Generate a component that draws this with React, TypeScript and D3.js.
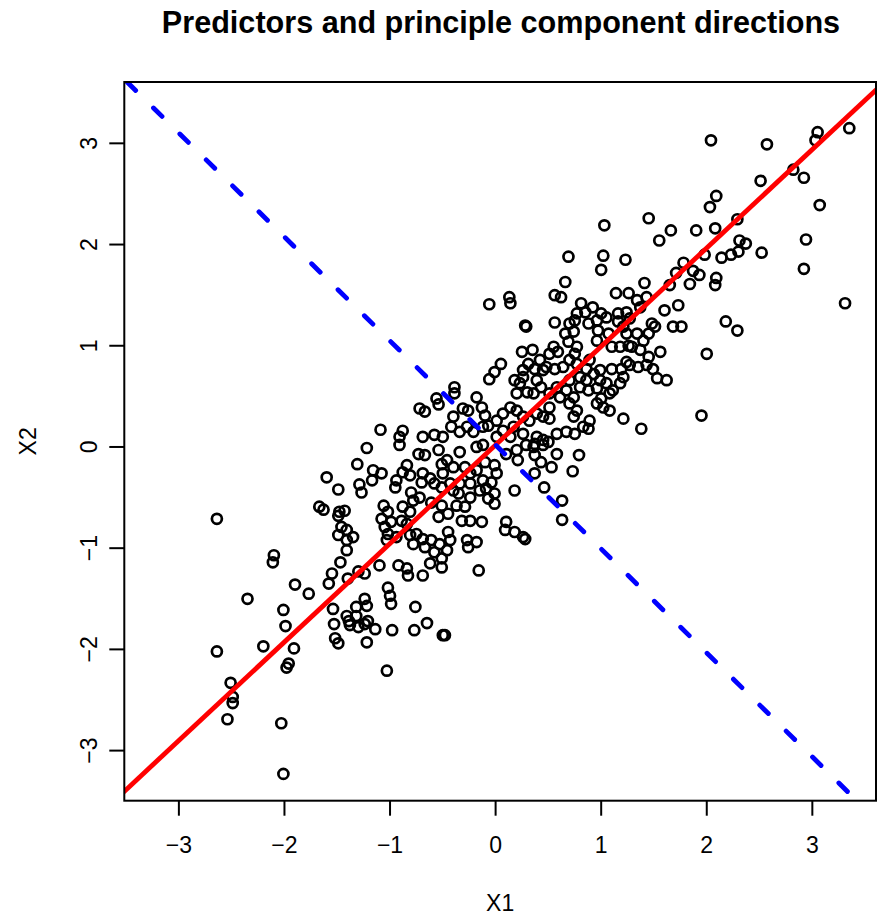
import React from "react";
import * as d3 from "d3";

const title = "Predictors and principle component directions";
const xLabel = "X1";
const yLabel = "X2";
const xTicks = [-3, -2, -1, 0, 1, 2, 3];
const yTicks = [-3, -2, -1, 0, 1, 2, 3];
const xDomain: [number, number] = [-3.517, 3.603];
const yDomain: [number, number] = [-3.495, 3.606];

// principal component directions (through the data centre)
const pcCenter: [number, number] = [0.0, 0.02];
const pc1Slope = 0.9733;
const pc2Slope = -1 / 0.9733;

// observations [X1, X2]
const observations: [number, number][] = [
  [1.03,2.19],[1.45,2.26],[1.66,2.14],[1.55,2.04],[1.90,2.14],[0.69,1.88],[1.02,1.89],[1.00,1.75],[1.23,1.85],[0.66,1.63],
  [1.41,1.62],[1.78,1.82],[1.71,1.72],[1.87,1.74],[1.93,1.70],[1.84,1.61],[1.65,1.60],
  [2.04,3.03],[2.57,2.99],[3.05,3.11],[3.03,3.03],[3.35,3.15],[2.51,2.63],[2.82,2.74],[2.92,2.66],[3.07,2.39],[2.09,2.48],
  [2.03,2.37],[2.29,2.25],[2.08,2.16],[2.31,2.04],[2.37,2.01],[2.30,1.93],[2.23,1.90],[2.14,1.87],[1.98,1.90],[2.52,1.92],
  [2.94,2.05],[2.92,1.76],[2.09,1.67],[2.08,1.60],
  [3.31,1.42],[2.18,1.24],[2.29,1.15],[2.00,0.92],[1.95,0.31],
  [-0.06,1.41],[0.13,1.48],[0.14,1.42],[0.28,1.20],[0.29,1.19],[0.25,0.94],[0.35,0.96],[0.05,0.82],[-0.01,0.74],[-0.06,0.67],
  [0.26,0.76],[0.18,0.66],[0.23,0.63],[0.26,0.69],[0.20,0.53],[0.30,0.54],[-0.39,0.59],[-0.39,0.53],[-0.18,0.49],[-0.56,0.48],
  [-0.54,0.42],[-0.72,0.38],[-0.67,0.35],[-0.13,0.39],[-0.10,0.31],[-0.31,0.38],[-0.26,0.36],[-0.40,0.30],[-1.09,0.17],[-0.88,0.16],
  [-0.91,0.10],[-0.69,0.10],[-0.58,0.12],[-0.50,0.10],[-0.42,0.20],[-0.27,0.20],[-0.21,0.15],[-0.34,0.15],[-0.12,0.20],[-0.07,0.21],
  [0.01,0.26],[0.07,0.33],[0.14,0.39],[0.20,0.36],[0.26,0.30],[0.32,0.26],[0.07,0.16],[0.17,0.20],[0.26,0.13],[0.01,0.10],
  [0.14,0.10],[0.31,0.82],
  [1.14,1.52],[1.26,1.52],[0.56,1.50],[0.62,1.48],[1.34,1.45],[1.43,1.48],[1.73,1.40],[1.60,1.35],[0.81,1.42],[0.77,1.32],
  [0.92,1.38],[0.85,1.33],[1.00,1.32],[1.05,1.28],[0.96,1.25],[1.16,1.32],[1.24,1.33],[1.37,1.38],[1.27,1.27],[0.56,1.23],
  [0.70,1.22],[0.75,1.25],[0.66,1.12],[0.74,1.14],[0.69,1.04],[0.88,1.22],[0.97,1.15],[1.07,1.12],[0.96,1.05],[1.16,1.24],
  [1.21,1.19],[1.48,1.22],[1.51,1.19],[1.45,1.12],[1.40,1.05],[1.68,1.19],[1.76,1.19],[1.24,1.12],[1.34,1.12],[1.26,1.00],
  [1.10,0.99],[1.18,0.99],[1.29,0.99],[1.37,0.96],[1.45,0.89],[1.56,0.94],[0.55,0.99],[0.51,0.92],[0.59,0.94],[0.77,0.99],
  [0.75,0.92],[0.70,0.86],[0.77,0.82],[0.42,0.86],[0.48,0.79],[0.45,0.76],[0.56,0.77],[0.64,0.79],[0.37,0.77],[0.89,0.86],
  [0.99,0.76],[0.93,0.72],[0.86,0.77],[1.10,0.77],[1.19,0.77],[1.27,0.81],[1.35,0.79],[1.43,0.81],[1.49,0.77],[1.24,0.84],
  [1.53,0.68],[1.62,0.66],[1.21,0.69],[1.18,0.63],[1.11,0.56],[0.99,0.66],[1.05,0.63],[0.96,0.58],[1.08,0.53],[0.80,0.69],
  [0.86,0.66],[0.80,0.59],[0.88,0.56],[0.70,0.66],[0.67,0.56],[0.74,0.49],[0.58,0.59],[0.51,0.53],[0.61,0.49],[0.39,0.66],
  [0.43,0.59],[0.36,0.53],[0.96,0.43],[1.02,0.39],[1.08,0.36],[1.00,0.48],[0.70,0.43],[0.77,0.36],[0.74,0.30],[0.51,0.39],
  [0.45,0.30],[0.51,0.28],[0.39,0.33],[1.21,0.28],[1.38,0.18],[0.58,0.13],[0.67,0.15],[0.75,0.13],[0.83,0.20],[0.89,0.26],
  [0.88,0.18],[0.45,0.07],[0.39,0.10],
  [-0.91,0.02],[-0.73,-0.07],[-0.67,-0.08],[-0.54,-0.03],[-0.34,-0.05],[-0.18,0.00],[-0.12,0.02],[0.10,-0.07],[0.20,-0.03],[0.29,0.02],
  [0.36,0.00],[0.21,-0.13],[0.18,-0.43],[-1.08,-0.26],[-1.16,-0.23],[-1.17,-0.33],[-0.84,-0.18],[-0.88,-0.25],[-0.81,-0.28],[-0.94,-0.33],
  [-0.95,-0.40],[-0.69,-0.26],[-0.70,-0.35],[-0.62,-0.31],[-0.80,-0.45],[-0.78,-0.53],[-0.72,-0.50],[-0.51,-0.17],[-0.46,-0.13],[-0.40,-0.20],
  [-0.50,-0.26],[-0.58,-0.36],[-0.51,-0.40],[-0.43,-0.36],[-0.29,-0.20],[-0.24,-0.26],[-0.18,-0.23],[-0.12,-0.33],[-0.10,-0.15],[-0.01,-0.18],
  [0.01,-0.26],[-0.04,-0.35],[-0.15,-0.43],[-0.07,-0.51],[-0.01,-0.56],[-0.35,-0.46],[-0.24,-0.50],[-0.37,-0.58],[-0.29,-0.59],[-0.32,-0.73],
  [-0.24,-0.73],[-0.13,-0.74],[-0.61,-0.55],[-0.51,-0.58],[-0.45,-0.66],[-0.54,-0.69],[-1.06,-0.58],[-1.02,-0.64],[-1.08,-0.71],[-0.99,-0.74],
  [-1.05,-0.79],[-0.88,-0.59],[-0.81,-0.64],[-0.89,-0.73],[-0.84,-0.76],[-1.02,-0.86],[-1.03,-0.92],[-0.94,-0.89],[-0.81,-0.87],[-0.75,-0.86],
  [-0.78,-0.96],[-0.69,-0.91],[-0.67,-0.99],[-0.61,-0.92],[-0.53,-0.96],[-0.58,-1.04],[-0.46,-1.02],[-0.51,-1.10],[-0.45,-0.84],[-0.43,-0.92],
  [-0.27,-0.92],[-0.26,-0.99],[-0.18,-0.94],[0.10,-0.74],[0.09,-0.82],[0.18,-0.84],[0.26,-0.89],[0.28,-0.91],[-0.16,-1.22],[-0.92,-1.17],
  [-0.84,-1.20],[-0.83,-1.27],[-0.69,-1.27],[-0.62,-1.15],[-0.51,-1.19],[-1.02,-1.39],[-1.00,-1.47],[-0.99,-1.55],[-0.76,-1.58],[-1.10,-1.17],
  [-0.01,-0.46],[-0.09,-0.41],[-0.40,-0.43],[-0.34,-0.36],[-0.24,-0.36],
  [0.37,0.03],[0.45,0.02],[0.50,0.05],[0.58,-0.07],[0.37,-0.08],[0.43,-0.15],[0.53,-0.20],[0.37,-0.26],[0.79,-0.08],[0.73,-0.24],
  [0.46,-0.40],[0.63,-0.53],[0.63,-0.72],
  [-1.22,-0.01],[-1.31,-0.17],[-1.60,-0.30],[-1.49,-0.42],[-1.29,-0.37],[-1.27,-0.45],[-1.67,-0.59],[-1.63,-0.62],[-1.48,-0.64],[-1.43,-0.63],
  [-1.49,-0.68],[-1.46,-0.79],[-1.41,-0.82],[-1.49,-0.87],[-1.35,-0.89],[-1.41,-0.92],[-1.41,-1.02],[-1.47,-1.14],[-1.55,-1.25],[-1.58,-1.35],
  [-1.40,-1.30],[-1.30,-1.23],[-1.24,-1.25],[-2.64,-0.71],[-2.10,-1.07],[-2.11,-1.14],[-1.90,-1.36],[-1.77,-1.45],[-2.35,-1.50],[-2.01,-1.61],
  [-1.54,-1.60],[-1.24,-1.50],[-1.22,-1.57],[-1.32,-1.58],
  [-1.99,-1.77],[-2.64,-2.02],[-2.20,-1.97],[-1.91,-1.99],[-1.96,-2.14],[-1.98,-2.18],[-2.51,-2.33],[-2.49,-2.47],[-2.49,-2.53],[-2.54,-2.69],
  [-2.03,-2.73],[-2.01,-3.23],[-1.53,-1.75],[-1.39,-1.72],[-1.38,-1.76],[-1.30,-1.78],[-1.24,-1.75],[-1.21,-1.72],[-1.52,-1.89],[-1.49,-1.94],
  [-1.22,-1.93],[-1.41,-1.67],[-1.32,-1.67],
  [-1.14,-1.80],[-0.98,-1.81],[-0.77,-1.81],[-0.65,-1.74],[-0.48,-1.86],[-0.50,-1.86],[-1.03,-2.21],
];

const W = 877;
const H = 921;
const plot = { left: 124.3, right: 876, top: 82, bottom: 800.7 };
const FONT = "'Liberation Sans', Arial, Helvetica, sans-serif";

export default function App() {
  const x = d3.scaleLinear().domain(xDomain).range([plot.left, plot.right]);
  const y = d3.scaleLinear().domain(yDomain).range([plot.bottom, plot.top]);

  const lineGen = d3
    .line<[number, number]>()
    .x((d) => x(d[0]))
    .y((d) => y(d[1]));

  const [cx, cy] = pcCenter;
  // PC1: across the full x range
  const pc1Pts: [number, number][] = [xDomain[0] - 0.05, xDomain[1] + 0.05].map(
    (v) => [v, cy + pc1Slope * (v - cx)] as [number, number]
  );
  // PC2: start exactly where it enters the top edge so dash phase starts there
  const pc2StartX = cx + (yDomain[1] - cy) / pc2Slope;
  const pc2EndX = cx + (yDomain[0] - 0.1 - cy) / pc2Slope;
  const pc2Pts: [number, number][] = [pc2StartX, pc2EndX].map(
    (v) => [v, cy + pc2Slope * (v - cx)] as [number, number]
  );

  const fmt = (v: number) => (v < 0 ? "\u2212" + Math.abs(v) : String(v));

  return (
    <svg
      width={W}
      height={H}
      style={{ position: "absolute", left: 0, top: 0, background: "#fff" }}
      fontFamily={FONT}
    >
      <defs>
        <clipPath id="plotClip">
          <rect x={plot.left} y={plot.top} width={plot.right - plot.left} height={plot.bottom - plot.top} />
        </clipPath>
      </defs>
      <rect x={0} y={0} width={W} height={H} fill="#fff" />
      <text x={501} y={33} textAnchor="middle" fontSize={30.6} fontWeight="bold" fill="#000">
        {title}
      </text>

      <g>
        {observations.map((d, i) => (
          <circle key={i} cx={x(d[0])} cy={y(d[1])} r={5} fill="none" stroke="#000" strokeWidth={2.7} />
        ))}
      </g>

      <g clipPath="url(#plotClip)">
        <path d={lineGen(pc1Pts) || ""} fill="none" stroke="#ff0000" strokeWidth={4.8} />
        <path
          d={lineGen(pc2Pts) || ""}
          fill="none"
          stroke="#0000ff"
          strokeWidth={4.8}
          strokeDasharray="12 25"
          strokeLinecap="round"
        />
      </g>

      <rect
        x={plot.left}
        y={plot.top}
        width={plot.right - plot.left}
        height={plot.bottom - plot.top}
        fill="none"
        stroke="#000"
        strokeWidth={2}
      />

      {xTicks.map((t) => (
        <g key={"x" + t}>
          <line x1={x(t)} x2={x(t)} y1={plot.bottom} y2={plot.bottom + 15} stroke="#000" strokeWidth={2} />
          <text x={x(t)} y={853} textAnchor="middle" fontSize={23} fill="#000">
            {fmt(t)}
          </text>
        </g>
      ))}
      {yTicks.map((t) => (
        <g key={"y" + t}>
          <line x1={plot.left - 15} x2={plot.left} y1={y(t)} y2={y(t)} stroke="#000" strokeWidth={2} />
          <text
            x={0}
            y={0}
            transform={`translate(97, ${y(t)}) rotate(-90)`}
            textAnchor="middle"
            fontSize={23}
            fill="#000"
          >
            {fmt(t)}
          </text>
        </g>
      ))}

      <text x={(plot.left + plot.right) / 2} y={911} textAnchor="middle" fontSize={23} fill="#000">
        {xLabel}
      </text>
      <text transform={`translate(36, ${(plot.top + plot.bottom) / 2}) rotate(-90)`} textAnchor="middle" fontSize={23} fill="#000">
        {yLabel}
      </text>
    </svg>
  );
}
